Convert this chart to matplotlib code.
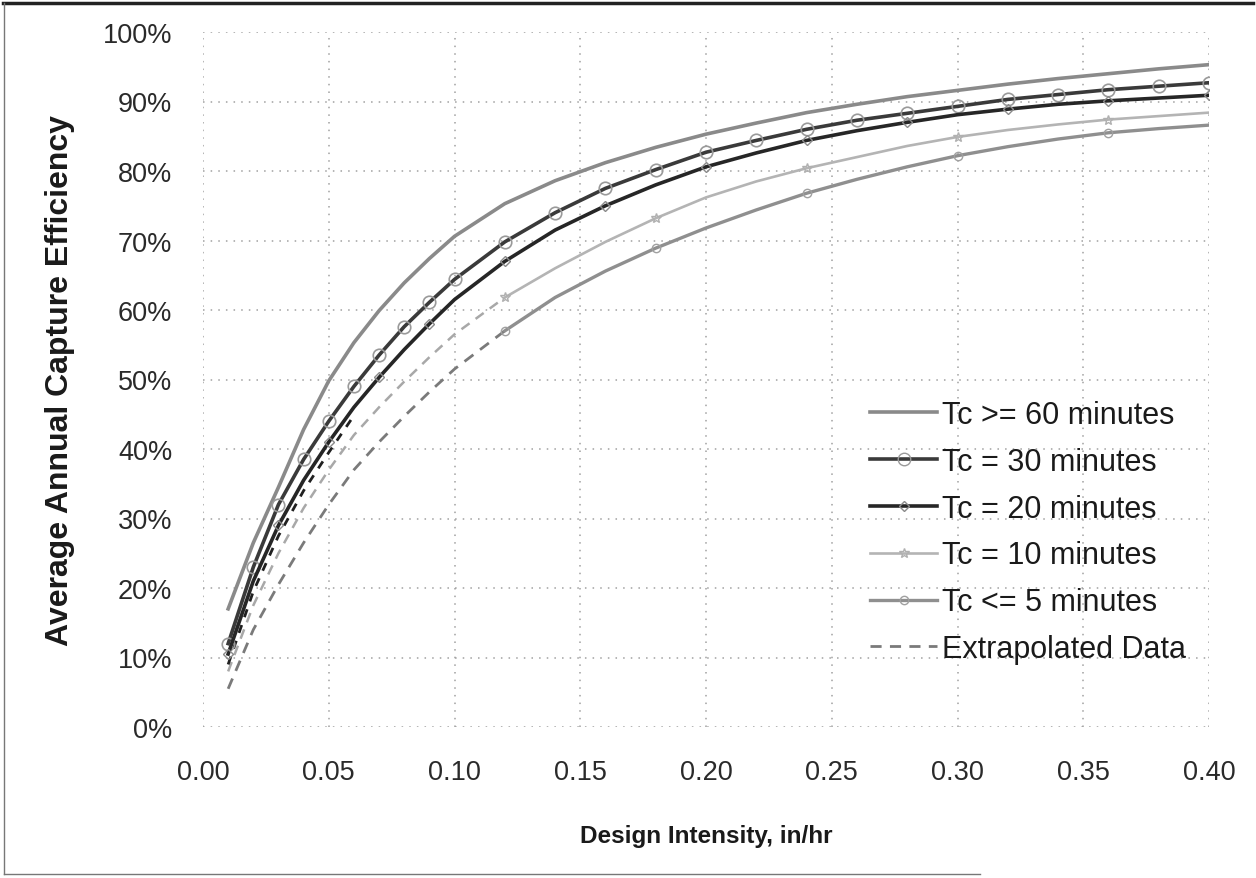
import matplotlib
matplotlib.use("Agg")
import matplotlib.pyplot as plt
from matplotlib.lines import Line2D
from matplotlib.ticker import FuncFormatter

plt.rcParams['font.family'] = ['Liberation Sans', 'DejaVu Sans']

# ---- data ----
x_vals = [0.01, 0.02, 0.03, 0.04, 0.05, 0.06, 0.07, 0.08, 0.09, 0.10,
          0.12, 0.14, 0.16, 0.18, 0.20, 0.22, 0.24, 0.26, 0.28, 0.30,
          0.32, 0.34, 0.36, 0.38, 0.40]

tc60 = [17.0, 26.5, 34.5, 42.8, 49.8, 55.3, 59.9, 63.9, 67.4, 70.6,
        75.3, 78.6, 81.2, 83.4, 85.3, 86.9, 88.4, 89.6, 90.7, 91.6,
        92.5, 93.3, 94.0, 94.7, 95.3]
tc30 = [12.0, 23.0, 32.0, 38.5, 44.0, 49.0, 53.5, 57.6, 61.1, 64.4,
        69.8, 74.0, 77.5, 80.2, 82.7, 84.4, 86.0, 87.3, 88.3, 89.3,
        90.3, 91.0, 91.7, 92.2, 92.7]
tc20 = [10.5, 21.0, 29.0, 35.5, 41.0, 46.0, 50.3, 54.3, 58.0, 61.5,
        67.0, 71.5, 75.0, 78.0, 80.6, 82.6, 84.4, 85.8, 87.0, 88.1,
        88.9, 89.6, 90.1, 90.5, 90.9]
tc10 = [8.0, 17.5, 25.0, 31.5, 37.0, 42.0, 46.0, 49.7, 53.2, 56.5,
        61.8, 66.0, 69.8, 73.2, 76.2, 78.5, 80.4, 82.0, 83.6, 84.9,
        85.9, 86.7, 87.4, 87.9, 88.4]
tc05 = [5.5, 14.0, 20.5, 26.5, 32.0, 37.0, 41.0, 44.7, 48.2, 51.5,
        57.0, 61.8, 65.6, 68.9, 71.8, 74.4, 76.8, 78.8, 80.6, 82.2,
        83.5, 84.6, 85.5, 86.1, 86.6]
# additional dark dashed extrapolation trace just under Tc = 20 at low intensity
extrap_dark_x = [0.01, 0.02, 0.03, 0.04, 0.05, 0.06]
extrap_dark_y = [9.0, 19.5, 27.5, 34.0, 39.5, 44.8]

labels = ["Tc >= 60 minutes", "Tc = 30 minutes", "Tc = 20 minutes",
          "Tc = 10 minutes", "Tc <= 5 minutes", "Extrapolated Data"]
x_ticks = [0.00, 0.05, 0.10, 0.15, 0.20, 0.25, 0.30, 0.35, 0.40]
y_ticks = [0, 10, 20, 30, 40, 50, 60, 70, 80, 90, 100]
x_label = "Design Intensity, in/hr"
y_label = "Average Annual Capture Efficiency"
extrap_end = 0.12   # Tc = 10 and Tc <= 5 are extrapolated (dashed) below this

# ---- figure ----
fig = plt.figure(figsize=(12.56, 8.79), dpi=100)
ax = fig.add_axes([203 / 1256, 1 - 728 / 879, (1209 - 203) / 1256, (728 - 33) / 879])

def split(xs, ys, xend):
    a = [(x, y) for x, y in zip(xs, ys) if x <= xend + 1e-9]
    b = [(x, y) for x, y in zip(xs, ys) if x >= xend - 1e-9]
    return [p[0] for p in a], [p[1] for p in a], [p[0] for p in b], [p[1] for p in b]

c60, c30, c20, c10, c05 = '#8a8a8a', '#3a3a3a', '#262626', '#b4b4b4', '#8f8f8f'

ax.plot(x_vals, [v / 100 for v in tc60], color=c60, lw=2.6, zorder=3)
ax.plot(x_vals, [v / 100 for v in tc30], color=c30, lw=2.6, marker='o', ms=9,
        mfc='none', mec='#9a9a9a', mew=1.2, zorder=4)
ax.plot(x_vals, [v / 100 for v in tc20], color=c20, lw=2.6, marker='D', ms=5,
        mfc='none', mec='#8a8a8a', mew=1.0, markevery=2, zorder=4)

ex, ey, sx, sy = split(x_vals, tc10, extrap_end)
ax.plot(ex, [v / 100 for v in ey], color='#a8a8a8', lw=1.8, ls=(0, (4, 3)), zorder=3)
ax.plot(sx, [v / 100 for v in sy], color=c10, lw=1.9, marker='*', ms=7,
        mfc='none', mec='#b0b0b0', markevery=3, zorder=3)

ex, ey, sx, sy = split(x_vals, tc05, extrap_end)
ax.plot(ex, [v / 100 for v in ey], color='#7a7a7a', lw=2.0, ls=(0, (4, 3)), zorder=3)
ax.plot(sx, [v / 100 for v in sy], color=c05, lw=2.4, marker='o', ms=6,
        mfc='none', mec='#a0a0a0', markevery=3, zorder=3)

ax.plot(extrap_dark_x, [v / 100 for v in extrap_dark_y], color='#202020', lw=2.0,
        ls=(0, (3, 3)), zorder=3)

ax.set_xlim(0, 0.40)
ax.set_ylim(0, 1.0)
ax.set_xticks(x_ticks)
ax.set_yticks([v / 100 for v in y_ticks])
ax.xaxis.set_major_formatter(FuncFormatter(lambda v, p: f"{v:.2f}"))
ax.yaxis.set_major_formatter(FuncFormatter(lambda v, p: f"{v * 100:.0f}%"))
ax.tick_params(axis='both', length=0, labelsize=19.5, colors='#2a2a2a')
ax.tick_params(axis='x', pad=23)
ax.tick_params(axis='y', pad=22)
for s in ax.spines.values():
    s.set_visible(False)
ax.grid(True, color='#a0a0a0', ls=(0, (1, 4)), lw=1.1)
ax.set_axisbelow(True)

ax.set_xlabel(x_label, fontsize=17.5, fontweight='bold', color='#1a1a1a', labelpad=28)
ax.set_ylabel(y_label, fontsize=23, fontweight='bold', color='#1a1a1a', labelpad=20)

handles = [
    Line2D([], [], color=c60, lw=2.6),
    Line2D([], [], color=c30, lw=2.6, marker='o', ms=9, mfc='none', mec='#9a9a9a'),
    Line2D([], [], color=c20, lw=2.6, marker='D', ms=5, mfc='none', mec='#8a8a8a'),
    Line2D([], [], color=c10, lw=1.9, marker='*', ms=7, mfc='none', mec='#b0b0b0'),
    Line2D([], [], color=c05, lw=2.4, marker='o', ms=6, mfc='none', mec='#a0a0a0'),
    Line2D([], [], color='#7a7a7a', lw=2.0, ls=(0, (4, 3))),
]
leg = fig.legend(handles, labels, loc='center left',
                 bbox_to_anchor=(870 / 1256, 1 - 533 / 879), frameon=False,
                 fontsize=22, handlelength=2.2, handletextpad=0.15,
                 labelspacing=0.55, borderpad=0, borderaxespad=0)
for t in leg.get_texts():
    t.set_color('#1a1a1a')

# scanned page border
fig.add_artist(Line2D([0.002, 0.998], [0.996, 0.996], color='#222222', lw=2.5))
fig.add_artist(Line2D([0.003, 0.003], [0.004, 0.996], color='#777777', lw=1.0))
fig.add_artist(Line2D([0.003, 0.78], [0.004, 0.004], color='#777777', lw=1.0))

fig.savefig("out.png", dpi=100)
